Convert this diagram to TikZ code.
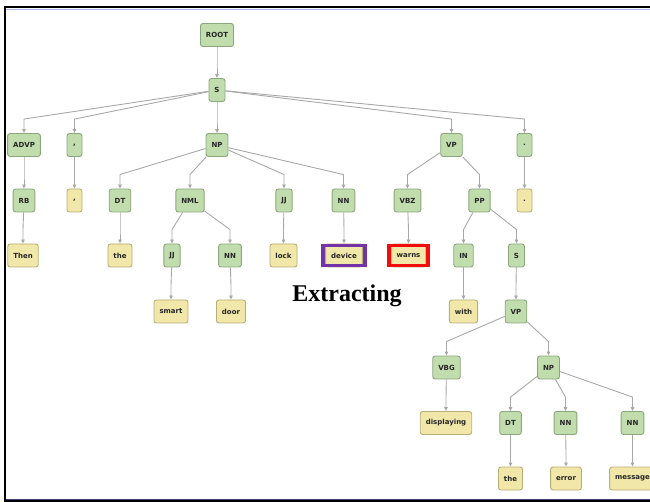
\documentclass[tikz,border=0pt]{standalone}
\usepackage{fontspec}
\newfontfamily\tagfont{DejaVu Sans}
\newfontfamily\headfont{Liberation Serif}
\usetikzlibrary{arrows.meta}

\definecolor{phrasefill}{HTML}{C2DDAD}
\definecolor{phraseline}{HTML}{8AA67B}
\definecolor{wordfill}{HTML}{F0E7A9}
\definecolor{wordline}{HTML}{B8AE78}
\definecolor{edgegray}{HTML}{A8A8A8}
\definecolor{tagtext}{HTML}{262626}
\definecolor{hlpurple}{HTML}{7333A6}
\definecolor{hlred}{HTML}{F20D0D}
\definecolor{ruleblue}{HTML}{A9B5EE}
\definecolor{ruledark}{HTML}{3A3F78}

\tikzset{
  tag/.style={draw, rounded corners=2.5pt, line width=0.9pt,
    minimum height=23pt, minimum width=15pt, inner xsep=5.5pt, inner ysep=0pt,
    font=\tagfont\bfseries\fontsize{7}{8}\selectfont, text=tagtext},
  phrase/.style={tag, fill=phrasefill, draw=phraseline},
  word/.style={tag, fill=wordfill, draw=wordline},
  edge/.style={draw=edgegray, line width=0.9pt, -{Triangle[length=4pt,width=3.5pt]}},
  hl/.style={line width=3.8pt}
}

% parent -> child: slanted run to a point above the child, then straight down
\newcommand\linkto[2]{\draw[edge] (#1) -- ([yshift=14pt]#2.north) -- (#2.north);}

\begin{document}
\begin{tikzpicture}[x=1pt, y=-1pt]
\useasboundingbox (0,0) rectangle (650,502);
\clip (0,0) rectangle (650,502);

% frame
\draw[ruleblue, line width=1pt] (6,10) -- (650,10);
\draw[ruledark, line width=1pt] (6,499) -- (650,499);
\draw[black, line width=2pt] (4,7.5) -- (650,7.5);
\draw[black, line width=1.6pt] (5,6.5) -- (5,501);
\draw[black, line width=1.4pt] (4,501) -- (650,501);

% level 0-1
\node[phrase] (root) at (217,35) {ROOT};
\node[phrase] (s1) at (217,90) {S};

% level 2
\node[phrase] (advp) at (24,145) {ADVP};
\node[phrase] (comma1) at (74.5,145) {,};
\node[phrase] (np1) at (217,145) {NP};
\node[phrase] (vp1) at (451.5,145) {VP};
\node[phrase] (dot1) at (524.5,145) {.};

% level 3
\node[phrase] (rb) at (24,200.5) {RB};
\node[word] (comma2) at (74.5,200.5) {,};
\node[phrase] (dt1) at (120,200.5) {DT};
\node[phrase] (nml) at (190,200.5) {NML};
\node[phrase] (jj1) at (284,200.5) {JJ};
\node[phrase] (nn1) at (343.5,200.5) {NN};
\node[phrase] (vbz) at (407.5,200.5) {VBZ};
\node[phrase] (pp) at (479.5,200.5) {PP};
\node[word] (dot2) at (524.5,200.5) {.};

% level 4
\node[word] (then) at (23,255.5) {Then};
\node[word] (the1) at (120,255.5) {the};
\node[phrase] (jj2) at (172,255.5) {JJ};
\node[phrase] (nn2) at (230,255.5) {NN};
\node[word] (lock) at (283.5,255.5) {lock};
\node[word] (device) at (344,255.5) {device};
\node[word] (warns) at (408.5,255.5) {warns};
\node[phrase] (in) at (463.5,255.5) {IN};
\node[phrase] (s2) at (516.5,255.5) {S};

% level 5
\node[word] (smart) at (171,311.5) {smart};
\node[word] (door) at (231,311.5) {door};
\node[word] (with) at (463.5,311.5) {with};
\node[phrase] (vp2) at (516,311.5) {VP};

% level 6
\node[phrase] (vbg) at (446.5,367.5) {VBG};
\node[phrase] (np2) at (548.5,367.5) {NP};

% level 7
\node[word] (displaying) at (446,423) {displaying};
\node[phrase] (dt2) at (510.5,423) {DT};
\node[phrase] (nn3) at (565.5,423) {NN};
\node[phrase] (nn4) at (632.5,423) {NN};

% level 8
\node[word] (the2) at (510.5,478.5) {the};
\node[word] (error) at (566,478.5) {error};
\node[word] (message) at (632.5,478.5) {message};

% highlight frames
\draw[hl, hlpurple] ([shift={(-2pt,2pt)}]device.south west) rectangle ([shift={(2pt,-2pt)}]device.north east);
\draw[hl, hlred] ([shift={(-2pt,2pt)}]warns.south west) rectangle ([shift={(2pt,-2pt)}]warns.north east);

\node[font=\headfont\bfseries\fontsize{24}{27}\selectfont] (extracting) at (347,295.5) {Extracting};

% connectors
\linkto{root}{s1}
\linkto{s1}{advp}
\linkto{s1}{comma1}
\linkto{s1}{np1}
\linkto{s1}{vp1}
\linkto{s1}{dot1}
\linkto{advp}{rb}
\linkto{comma1}{comma2}
\linkto{np1}{dt1}
\linkto{np1}{nml}
\linkto{np1}{jj1}
\linkto{np1}{nn1}
\linkto{vp1}{vbz}
\linkto{vp1}{pp}
\linkto{dot1}{dot2}
\linkto{rb}{then}
\linkto{dt1}{the1}
\linkto{nml}{jj2}
\linkto{nml}{nn2}
\linkto{jj1}{lock}
\linkto{nn1}{device}
\linkto{vbz}{warns}
\linkto{pp}{in}
\linkto{pp}{s2}
\linkto{jj2}{smart}
\linkto{nn2}{door}
\linkto{in}{with}
\linkto{s2}{vp2}
\linkto{vp2}{vbg}
\linkto{vp2}{np2}
\linkto{vbg}{displaying}
\linkto{np2}{dt2}
\linkto{np2}{nn3}
\linkto{np2}{nn4}
\linkto{dt2}{the2}
\linkto{nn3}{error}
\linkto{nn4}{message}
\end{tikzpicture}
\end{document}
